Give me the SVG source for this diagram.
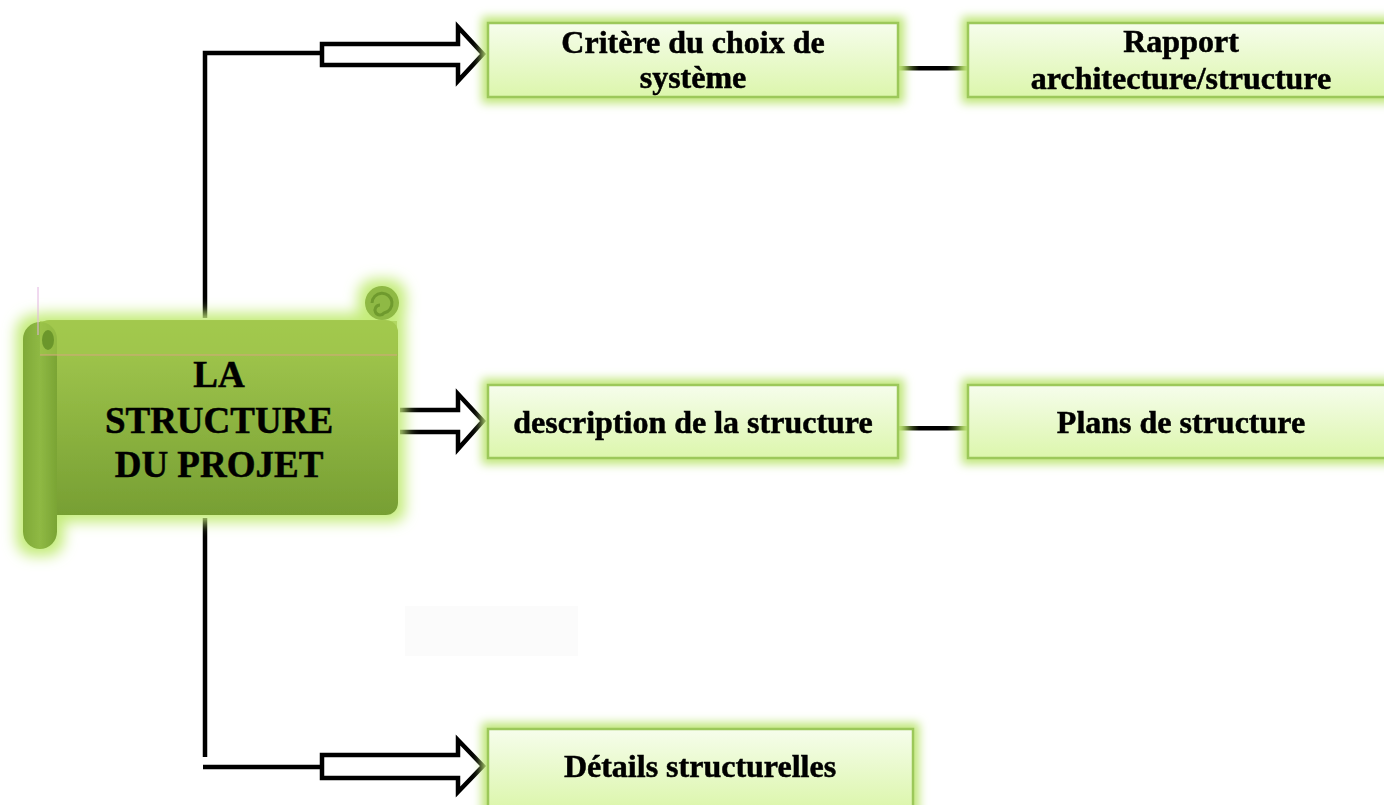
<svg xmlns="http://www.w3.org/2000/svg" width="1384" height="805" viewBox="0 0 1384 805">
<defs>
<style>
.lbl{font-family:"Liberation Serif","Times New Roman",serif;font-weight:bold;fill:#000;stroke:#000;stroke-width:0.5;text-anchor:middle}
.box{fill:url(#boxg);stroke:#9cc85a;stroke-width:2.5}
.wire{fill:none;stroke:#000;stroke-width:4.5}
.hollow{fill:#fff;stroke:#000;stroke-width:4.5;stroke-linejoin:miter}
</style>
<linearGradient id="boxg" x1="0" y1="0" x2="0" y2="1">
<stop offset="0" stop-color="#f6fdec"/>
<stop offset="1" stop-color="#dcf6ac"/>
</linearGradient>
<linearGradient id="bodyg" x1="0" y1="0" x2="0" y2="1">
<stop offset="0" stop-color="#a3c950"/>
<stop offset="0.2" stop-color="#9cc24a"/>
<stop offset="1" stop-color="#779f33"/>
</linearGradient>
<linearGradient id="rollg" x1="0" y1="0" x2="1" y2="0">
<stop offset="0" stop-color="#7fa938"/>
<stop offset="0.5" stop-color="#8fb944"/>
<stop offset="1" stop-color="#7aa434"/>
</linearGradient>
<linearGradient id="linkg" x1="0" y1="0" x2="1" y2="0">
<stop offset="0" stop-color="#8fb944"/>
<stop offset="0.3" stop-color="#000"/>
<stop offset="0.7" stop-color="#000"/>
<stop offset="1" stop-color="#8fb944"/>
</linearGradient>
<filter id="glow" x="-20%" y="-50%" width="140%" height="200%">
<feMorphology in="SourceAlpha" operator="dilate" radius="5" result="d"/>
<feGaussianBlur in="d" stdDeviation="5" result="b"/>
<feFlood flood-color="#bfe679" result="c"/>
<feComposite in="c" in2="b" operator="in" result="g"/>
<feMerge><feMergeNode in="g"/><feMergeNode in="SourceGraphic"/></feMerge>
</filter>
<filter id="glow2" x="-20%" y="-20%" width="140%" height="140%">
<feMorphology in="SourceAlpha" operator="dilate" radius="7" result="d"/>
<feGaussianBlur in="d" stdDeviation="7" result="b"/>
<feFlood flood-color="#c4ec7a" result="c"/>
<feComposite in="c" in2="b" operator="in" result="g"/>
<feMerge><feMergeNode in="g"/><feMergeNode in="SourceGraphic"/></feMerge>
</filter>
</defs>
<rect width="1384" height="805" fill="#fff"/>
<rect x="405" y="606" width="173" height="50" fill="#fbfbfb"/>

<g id="connectors">
<path class="wire" d="M205,318 V53 H322"/>
<path class="hollow" d="M322,44 H458 V27 L483,54 L458,81 V65 H322 Z"/>
<path class="wire" d="M400,410 H458 V394 L483,421 L458,449 V432 H400"/>
<path class="wire" d="M205,518 V757"/>
<path class="wire" d="M203,767 H322"/>
<path class="hollow" d="M322,755 H458 V740 L483,766 L458,792 V778 H322 Z"/>
<rect x="898" y="66" width="70" height="4.5" fill="url(#linkg)"/>
<rect x="898" y="426" width="70" height="4.5" fill="url(#linkg)"/>
</g>

<g id="root">
<g filter="url(#glow2)">
<circle cx="382" cy="303" r="17" fill="#8fb944"/>
<rect x="37" y="320" width="361" height="195" rx="12" fill="url(#bodyg)"/>
<rect x="23" y="322" width="34" height="227" rx="17" fill="url(#rollg)"/>
</g>
<rect x="40" y="321" width="357" height="34" fill="#a2c84d" opacity="0.6"/>
<line x1="40" y1="355" x2="397" y2="355" stroke="#d6a57e" stroke-width="1"/>
<line x1="38" y1="287" x2="38" y2="335" stroke="#e2b4e0" stroke-width="1"/>
<path d="M372,303 a10,10 0 1 1 12,10 a5,5 0 1 1 -4,-8" fill="none" stroke="#6f9a2e" stroke-width="3"/>
<ellipse cx="48" cy="340" rx="6" ry="10" fill="#6b962b"/>
<text class="lbl" font-size="37" x="219" y="387">LA</text>
<text class="lbl" font-size="37" x="219" y="433">STRUCTURE</text>
<text class="lbl" font-size="37" x="219" y="477">DU PROJET</text>
</g>

<g id="n1" filter="url(#glow)">
<rect class="box" x="488" y="23" width="410" height="74"/>
<text class="lbl" font-size="32" x="693" y="53">Critère du choix de</text>
<text class="lbl" font-size="32" x="693" y="88">système</text>
</g>
<g id="n2" filter="url(#glow)">
<rect class="box" x="968" y="23" width="420" height="74"/>
<text class="lbl" font-size="32" x="1181" y="52">Rapport</text>
<text class="lbl" font-size="32" x="1181" y="89">architecture/structure</text>
</g>
<g id="n3" filter="url(#glow)">
<rect class="box" x="488" y="385" width="410" height="73"/>
<text class="lbl" font-size="32" x="693" y="433">description de la structure</text>
</g>
<g id="n4" filter="url(#glow)">
<rect class="box" x="968" y="385" width="420" height="73"/>
<text class="lbl" font-size="32" x="1181" y="433">Plans de structure</text>
</g>
<g id="n5" filter="url(#glow)">
<rect class="box" x="488" y="729" width="425" height="80"/>
<text class="lbl" font-size="32" x="700" y="777">Détails structurelles</text>
</g>
</svg>
